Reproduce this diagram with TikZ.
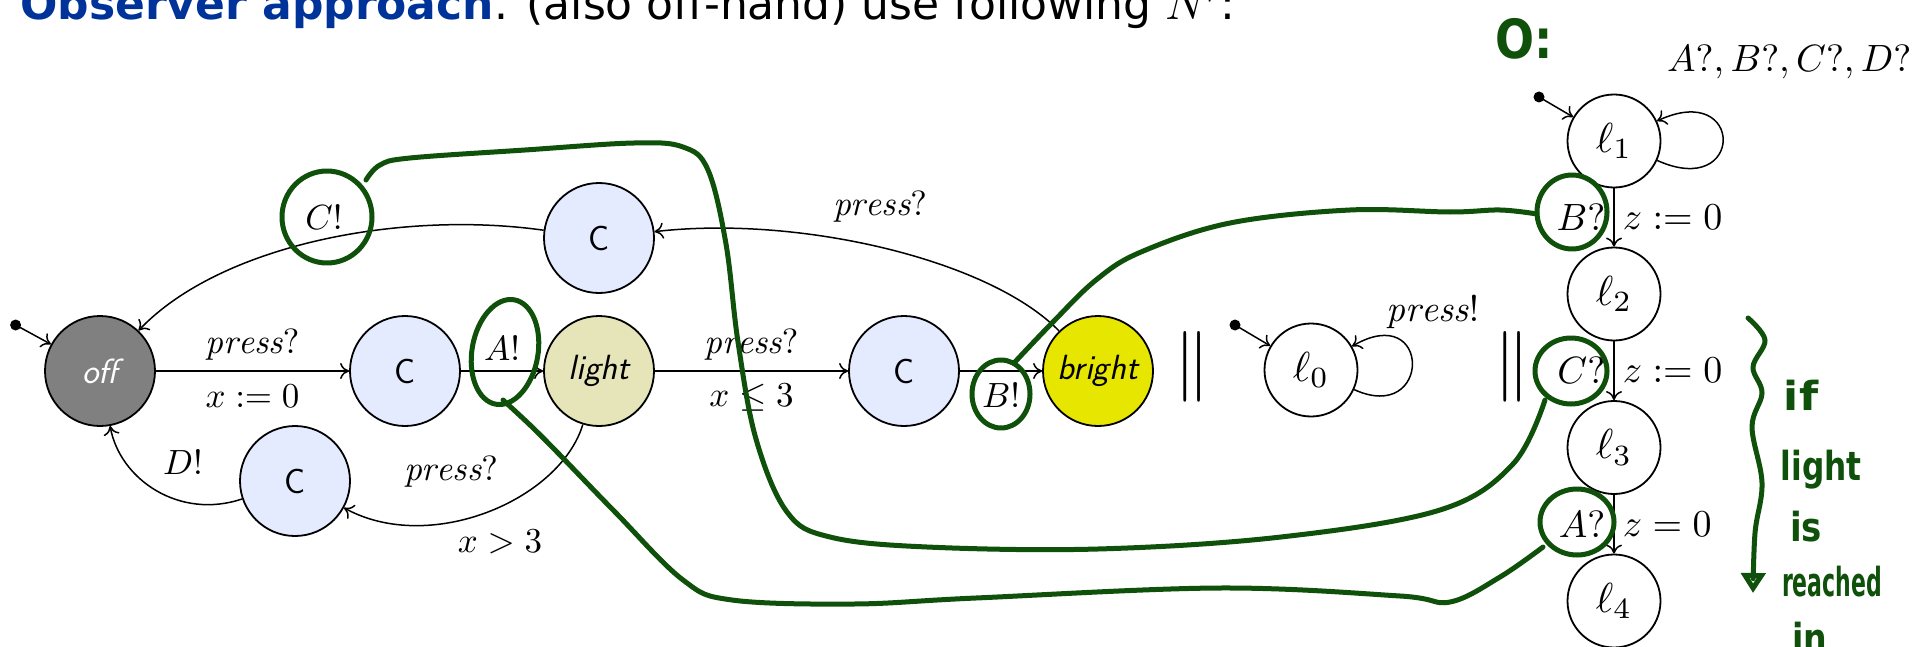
\documentclass[tikz,border=0pt]{standalone}
\usepackage{fontspec}
\usepackage{amsmath}
\usetikzlibrary{shapes.geometric,arrows.meta}
\newfontfamily\titlefont{DejaVu Sans}
\definecolor{ttlblue}{RGB}{0,51,153}
\definecolor{hgreen}{RGB}{15,80,10}
\definecolor{cfill}{RGB}{229,235,255}
\definecolor{lightfill}{RGB}{229,229,185}
\definecolor{brightfill}{RGB}{230,230,0}
\definecolor{offfill}{RGB}{128,128,128}
% math set at 10pt and scaled up
\newcommand{\mt}[2][3.5]{\scalebox{#1}{\fontsize{10}{12}\selectfont$#2$}}
\newcommand{\hw}[2][1]{\scalebox{#1}[1]{#2}}
\newcommand{\pr}{\mathit{press}}
\begin{document}
\begin{tikzpicture}[x=1pt,y=-1pt,
  st/.style={circle,draw=black,line width=1.8pt,minimum size=110pt,inner sep=0pt,
    font=\fontsize{35}{40}\selectfont\sffamily},
  loc/.style={circle,draw=black,line width=1.8pt,minimum size=93pt,inner sep=0pt},
  lbl/.style={inner sep=0pt},
  conn/.style={line width=1.5pt,-{Computer Modern Rightarrow[length=9pt,width=16pt]}},
  hand/.style={hgreen,line width=5pt,line cap=round,line join=round},
  hnd/.style={text=hgreen,inner sep=0pt,font=\fontsize{40}{44}\selectfont\titlefont\bfseries},
  dot/.style={fill=black}]
\fill[white] (0,0) rectangle (1913,647);
\useasboundingbox (0,0) rectangle (1913,647);

% title
\node[anchor=base west,inner sep=0pt,font=\fontsize{44}{50}\selectfont\titlefont] (title) at (20,20)
  {{\color{ttlblue}\bfseries Observer approach}. (also off-hand) use following \mt[4.6]{N'}:};

% left automaton
\node[st,fill=offfill,text=white] (off) at (100,371) {\itshape off};
\node[st,fill=cfill] (c1) at (405,371) {C};
\node[st,fill=lightfill] (light) at (599,371) {\itshape light};
\node[st,fill=cfill] (c2) at (904,371) {C};
\node[st,fill=brightfill] (bright) at (1098,371) {\itshape bright};
\node[st,fill=cfill] (ctop) at (599,238) {C};
\node[st,fill=cfill] (cbot) at (295,481) {C};

\coordinate (i0) at (15.6,325);
\fill[dot] (i0) circle (5.5);
\draw[conn] (i0) -- (off);

\draw[conn] (off) -- node[lbl,above=10pt]{\mt{\pr?}} node[lbl,below=13pt]{\mt{x:=0}} (c1);
\draw[conn] (c1) -- node[lbl,above=10pt]{\mt{A!}} (light);
\draw[conn] (light) -- node[lbl,above=10pt]{\mt{\pr?}} node[lbl,below=12pt]{\mt{x\leq 3}} (c2);
\draw[conn] (c2) -- node[lbl,below=11pt]{\mt{B!}} (bright);
\draw[conn] (bright) .. controls (990,260) and (800,215) .. (ctop);
\node[lbl] (lpb) at (880,207) {\mt{\pr?}};
\draw[conn] (ctop) .. controls (400,210) and (220,245) .. (off);
\node[lbl] (lc) at (324,217) {\mt{C!}};
\draw[conn] (light) .. controls (560,500) and (430,555) .. (cbot);
\node[lbl] (lpl) at (451,472) {\mt{\pr?}};
\node[lbl] (lx) at (500,542) {\mt{x>3}};
\draw[conn] (cbot) .. controls (180,520) and (120,480) .. (off);
\node[lbl] (ld) at (183,462) {\mt{D!}};

\node[lbl] (par1) at (1192,367) {\resizebox{!}{53pt}{$\|$}};

% middle automaton
\node[loc] (l0) at (1311,370) {\mt[4.2]{\ell_0}};
\coordinate (i1) at (1235,325);
\fill[dot] (i1) circle (5.5);
\draw[conn] (i1) -- (l0);
\draw[conn] (l0) .. controls (1432,425) and (1432,300) .. (l0);
\node[lbl] (lpr) at (1433,312) {\mt[3.7]{\pr!}};

\node[lbl] (par2) at (1512,367) {\resizebox{!}{53pt}{$\|$}};

% observer
\node[loc] (l1) at (1614,141) {\mt[4.2]{\ell_1}};
\node[loc] (l2) at (1614,294) {\mt[4.2]{\ell_2}};
\node[loc] (l3) at (1614,447.5) {\mt[4.2]{\ell_3}};
\node[loc] (l4) at (1614,601) {\mt[4.2]{\ell_4}};
\coordinate (i2) at (1539,97);
\fill[dot] (i2) circle (5.5);
\draw[conn] (i2) -- (l1);
\draw[conn] (l1) .. controls (1745,200) and (1745,80) .. (l1);
\node[lbl,anchor=west] (lall) at (1667,62) {\mt[3.8]{A?, B?, C?, D?}};
\draw[conn] (l1) -- node[lbl,left=8pt]{\mt[3.8]{B?}} node[lbl,right=8pt]{\mt[3.8]{z:=0}} (l2);
\draw[conn] (l2) -- node[lbl,left=8pt]{\mt[3.8]{C?}} node[lbl,right=8pt]{\mt[3.8]{z:=0}} (l3);
\draw[conn] (l3) -- node[lbl,left=8pt]{\mt[3.8]{A?}} node[lbl,right=8pt]{\mt[3.8]{z=0}} (l4);

% handwritten annotations
\draw[hand] (327,217) ellipse [x radius=45pt, y radius=46pt];
\draw[hand] plot[smooth,tension=0.6] coordinates {(366,180) (380,165) (410,158) (525,150) (634,143) (683,147) (708,170) (726,244) (738,342) (756,439) (787,512) (830,537) (927,547) (1098,549) (1281,537) (1440,510) (1513,464) (1545,400)};
\draw[hand] (1571,371) ellipse [x radius=36pt, y radius=33pt];

\draw[hand,rotate around={-10:(505,352)}] (505,352) ellipse [x radius=33pt, y radius=53pt];
\draw[hand] plot[smooth,tension=0.6] coordinates {(503,400) (530,425) (558,453) (616,513) (683,580) (732,600) (854,604) (976,598) (1220,588) (1400,596) (1450,602) (1500,577) (1543,547)};
\draw[hand] (1577,522) ellipse [x radius=37pt, y radius=33pt];

\draw[hand] (1001,394) ellipse [x radius=29pt, y radius=34pt];
\draw[hand] plot[smooth,tension=0.6] coordinates {(1014,363) (1052,323) (1096,280) (1141,252) (1230,223) (1350,210) (1450,212) (1500,210) (1537,214)};
\draw[hand] (1572,212) ellipse [x radius=35pt, y radius=37pt];

\node[hnd,font=\fontsize{54}{60}\selectfont\titlefont\bfseries] (obs) at (1524,39) {\hw[0.85]{O:}};

\draw[hand,-{Triangle[open,length=20pt,width=24pt]}] plot[smooth,tension=0.6] coordinates {(1748,318) (1765,340) (1753,367) (1762,393) (1752,427) (1762,483) (1755,533) (1753,593)};
\node[hnd] (t1) at (1801,395) {\hw[1.1]{if}};
\node[hnd] (t2) at (1821,470) {\hw[0.78]{light}};
\node[hnd] (t3) at (1806,527) {\hw[0.85]{is}};
\node[hnd] (t4) at (1832,582) {\hw[0.55]{reached}};
\node[hnd] (t5) at (1810,637) {\hw[0.83]{in}};
\end{tikzpicture}
\end{document}
